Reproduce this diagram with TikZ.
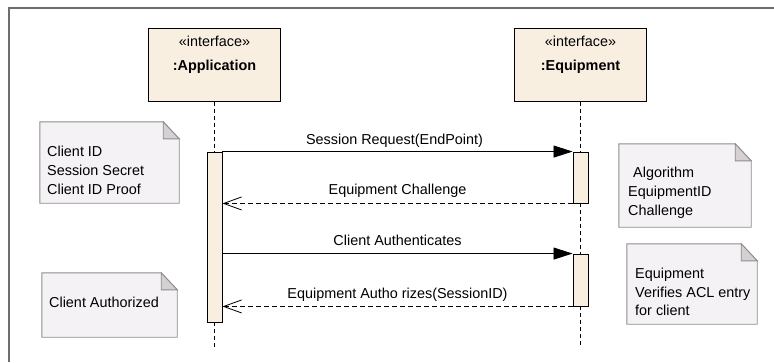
\documentclass[tikz,border=0pt]{standalone}
\usepackage{fontspec}
\setmainfont{Liberation Sans}
\usetikzlibrary{calc,arrows.meta}

\definecolor{lifefill}{HTML}{F9EFE1}
\definecolor{notefill}{HTML}{F5F2F5}
\definecolor{noteline}{HTML}{8E8E8E}
\definecolor{foldfill}{HTML}{D4D0D4}
\definecolor{framegray}{HTML}{6E6E6E}

\tikzset{
  every node/.style={font=\fontsize{14.4}{18.8}\selectfont},
  objbox/.style={draw=black, line width=1pt, fill=lifefill,
    minimum width=132pt, minimum height=73pt, inner sep=0pt},
  actbar/.style={draw=black, line width=0.9pt, fill=lifefill,
    minimum width=15pt, inner sep=0pt},
  notebg/.style={inner sep=0pt},
  notetext/.style={anchor=west, align=left, inner sep=0pt},
  msglabel/.style={anchor=base, inner sep=0pt},
  lifeline/.style={line width=0.8pt, dash pattern=on 4pt off 3pt},
  syncmsg/.style={line width=0.8pt, -{Triangle[length=19pt,width=12pt]}},
  retmsg/.style={line width=0.8pt, dash pattern=on 5pt off 3pt,
    -{Straight Barb[length=18pt,width=13pt,line width=0.8pt]}},
}

% dog-eared comment paper behind a named node
\newcommand{\notepaper}[1]{%
  \filldraw[fill=notefill, draw=noteline, line width=0.9pt]
    (#1.north west) -- ($(#1.north east)+(-16,0)$) -- ($(#1.north east)+(0,17)$)
    -- (#1.south east) -- (#1.south west) -- cycle;
  \filldraw[fill=foldfill, draw=noteline, line width=0.9pt]
    ($(#1.north east)+(-16,0)$) -- ($(#1.north east)+(0,17)$)
    -- ($(#1.north east)+(-16,17)$) -- cycle;
}

\begin{document}
\begin{tikzpicture}[x=1pt, y=-1pt]
\useasboundingbox (0,0) rectangle (774,362);
\fill[white] (0,0) rectangle (774,362);

% diagram frame
\draw[framegray, line width=2pt] (8.5,362) -- (8.5,7.5) -- (774,7.5);

% participants
\node[objbox] (app) at (214.5,64.5) {};
\node[msglabel] (appst) at (214.5,46.5) {«interface»};
\node[msglabel, font=\fontsize{14.4}{18.8}\selectfont\bfseries] (appname) at (214.5,70) {:Application};

\node[objbox] (eq) at (580.5,64.5) {};
\node[msglabel] (eqst) at (580.5,46.5) {«interface»};
\node[msglabel, font=\fontsize{14.4}{18.8}\selectfont\bfseries] (eqname) at (580.5,70) {:Equipment};

% activation bars
\node[actbar, minimum height=170pt] (appbar) at (214.5,237) {};
\node[actbar, minimum height=51pt] (eqbar1) at (580.5,177.5) {};
\node[actbar, minimum height=52pt] (eqbar2) at (580.5,280) {};

\coordinate (append) at (214.5,349);
\coordinate (eqend) at (580.5,348);

% lifelines
\draw[lifeline] (app.south) -- (appbar.north);
\draw[lifeline] (appbar.south) -- (append);
\draw[lifeline] (eq.south) -- (eqbar1.north);
\draw[lifeline] (eqbar1.south) -- (eqbar2.north);
\draw[lifeline] (eqbar2.south) -- (eqend);

% messages
\draw[syncmsg] (appbar.north east) -- (eqbar1.north west);
\node[msglabel] (m1) at ($(appbar.north east)!0.5!(eqbar1.north west)+(-3,-7.5)$) {Session Request(EndPoint)};

\draw[retmsg] (eqbar1.south west) -- (eqbar1.south west -| appbar.east);
\node[msglabel] (m2) at ($(eqbar1.south west)!0.5!(eqbar1.south west -| appbar.east)+(0,-8.5)$) {Equipment Challenge};

\draw[syncmsg] (appbar.east |- eqbar2.north) -- (eqbar2.north west);
\node[msglabel] (m3) at ($(appbar.east |- eqbar2.north)!0.5!(eqbar2.north west)+(0,-8)$) {Client Authenticates};

\draw[retmsg] (eqbar2.south west) -- (eqbar2.south west -| appbar.east);
\node[msglabel] (m4) at ($(eqbar2.south west)!0.5!(eqbar2.south west -| appbar.east)+(0,-8)$) {Equipment Autho rizes(SessionID)};

% notes
\node[notebg, minimum width=139pt, minimum height=81pt] (n1) at (109.5,162.5) {};
\notepaper{n1}
\node[notetext] (n1t) at (47,170.5) {Client ID\\Session Secret\\Client ID Proof};

\node[notebg, minimum width=135pt, minimum height=64pt] (n2) at (109.5,305) {};
\notepaper{n2}
\node[notetext] (n2t) at (49,302) {Client Authorized};

\node[notebg, minimum width=132pt, minimum height=83pt] (n3) at (685,185.5) {};
\notepaper{n3}
\node[notetext] (n3t) at (628,193) {\hspace*{5pt}Algorithm\\EquipmentID\\Challenge};

\node[notebg, minimum width=130pt, minimum height=80pt] (n4) at (692,284) {};
\notepaper{n4}
\node[notetext] (n4t) at (635,292) {Equipment\\Verifies ACL entry\\for client};
\end{tikzpicture}
\end{document}
